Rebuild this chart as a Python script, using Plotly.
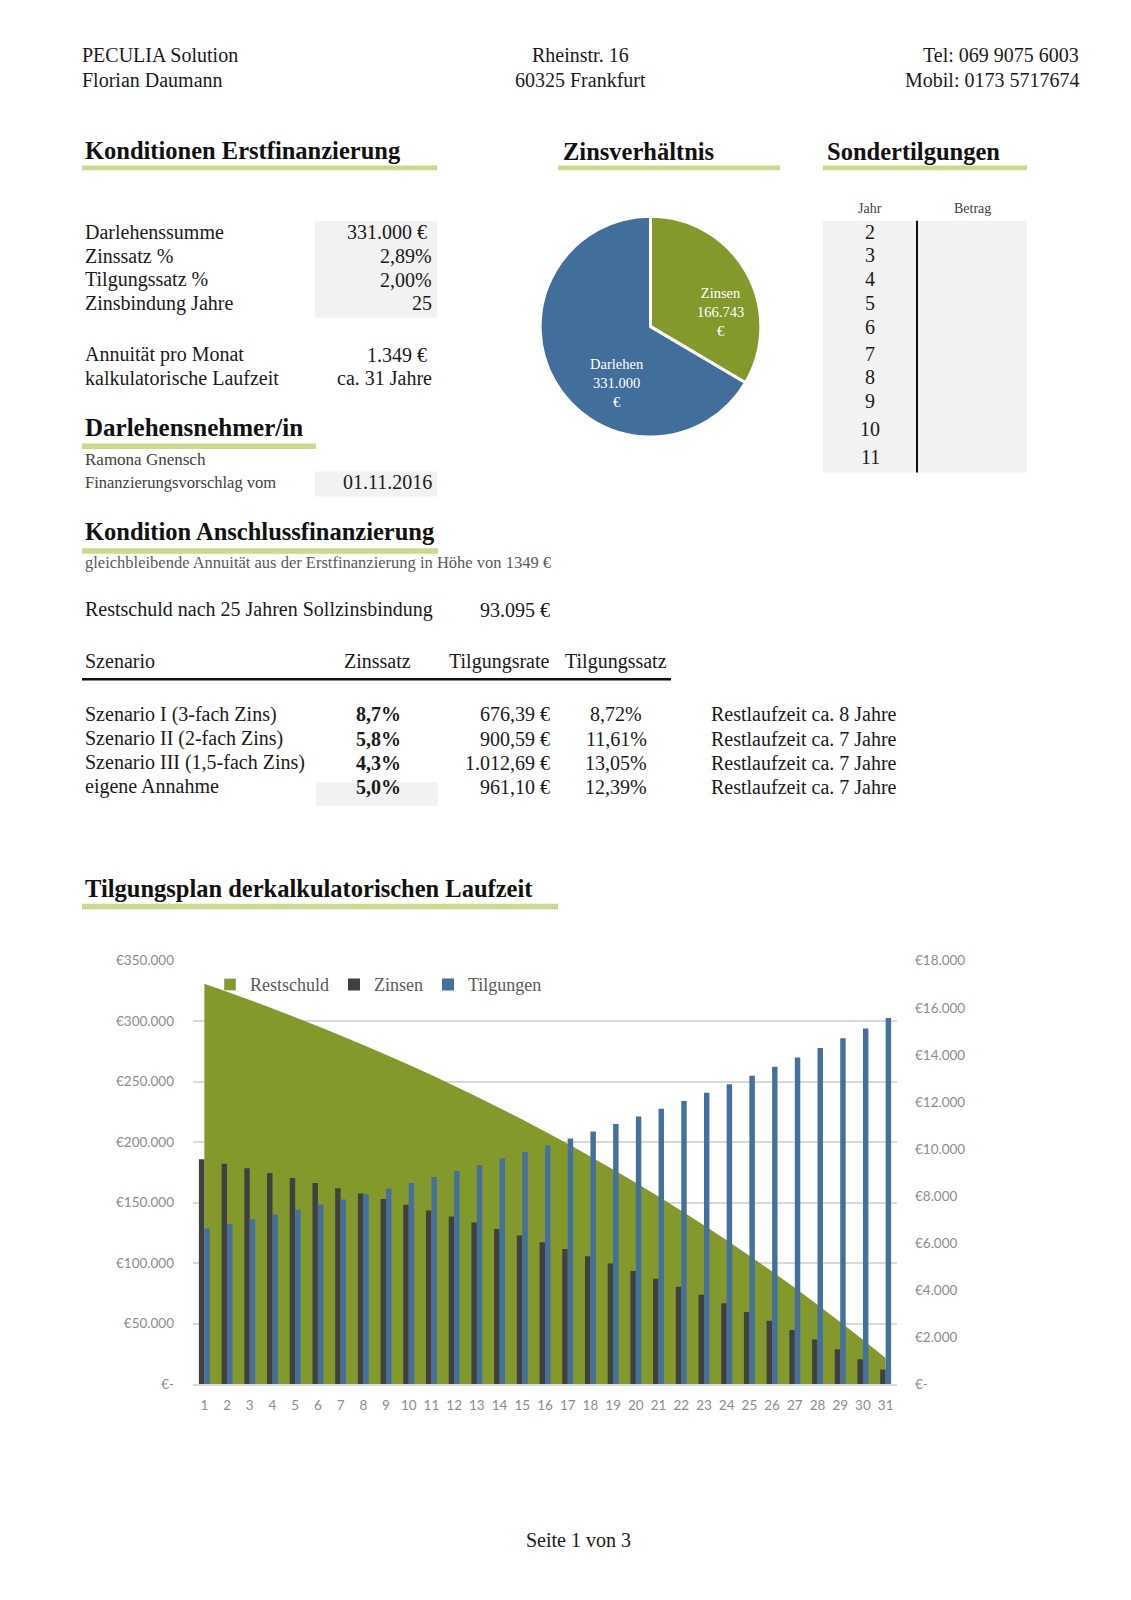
import plotly.graph_objects as go

W, H = 1131, 1600
SERIF = "Liberation Serif"
SANS = "Lato"

# ---------------- data ----------------
header_left = ["PECULIA Solution", "Florian Daumann"]
header_mid = ["Rheinstr. 16", "60325 Frankfurt"]
header_right = ["Tel: 069 9075 6003", "Mobil: 0173 5717674"]

kond_labels = ["Darlehenssumme", "Zinssatz %", "Tilgungssatz %", "Zinsbindung Jahre"]
kond_values = ["331.000 €", "2,89%", "2,00%", "25"]
ann_labels = ["Annuität pro Monat", "kalkulatorische Laufzeit"]
ann_values = ["1.349 €", "ca. 31 Jahre"]

nehmer_name = "Ramona Gnensch"
vorschlag_label = "Finanzierungsvorschlag vom"
vorschlag_datum = "01.11.2016"

pie_labels = ["Zinsen", "Darlehen"]
pie_values = [166743, 331000]

sonder_jahre = [2, 3, 4, 5, 6, 7, 8, 9, 10, 11]

anschluss_note = "gleichbleibende Annuität aus der Erstfinanzierung in Höhe von 1349 €"
restschuld_label = "Restschuld nach 25 Jahren Sollzinsbindung"
restschuld_wert = "93.095 €"

szen_header = ["Szenario", "Zinssatz", "Tilgungsrate", "Tilgungssatz"]
szen_names = ["Szenario I (3-fach Zins)", "Szenario II (2-fach Zins)",
              "Szenario III (1,5-fach Zins)", "eigene Annahme"]
szen_zins = ["8,7%", "5,8%", "4,3%", "5,0%"]
szen_rate = ["676,39 €", "900,59 €", "1.012,69 €", "961,10 €"]
szen_satz = ["8,72%", "11,61%", "13,05%", "12,39%"]
szen_rest = ["Restlaufzeit ca. 8 Jahre", "Restlaufzeit ca. 7 Jahre",
             "Restlaufzeit ca. 7 Jahre", "Restlaufzeit ca. 7 Jahre"]

years = list(range(1, 32))
restschuld = [331000, 324380, 317569, 310561, 303350, 295931, 288297, 280443, 272362, 264047,
              255493, 246690, 237634, 228316, 218728, 208863, 198713, 188270, 177525, 166470,
              155095, 143391, 131350, 118960, 106212, 93095, 79600, 65714, 51428, 36728, 21603]
zinsen = [9566, 9375, 9178, 8975, 8767, 8552, 8332, 8105, 7871, 7631,
          7384, 7129, 6868, 6598, 6321, 6036, 5743, 5441, 5131, 4811,
          4482, 4144, 3796, 3438, 3070, 2691, 2300, 1899, 1486, 1061, 624]
tilgungen = [6620, 6811, 7008, 7211, 7419, 7634, 7854, 8081, 8315, 8555,
             8802, 9057, 9318, 9588, 9865, 10150, 10443, 10745, 11055, 11375,
             11704, 12042, 12390, 12748, 13116, 13495, 13886, 14287, 14700, 15125, 15562]

left_ticks = [0, 50000, 100000, 150000, 200000, 250000, 300000, 350000]
right_ticks = [0, 2000, 4000, 6000, 8000, 10000, 12000, 14000, 16000, 18000]

# colours
GREEN = "#84992B"
BLUE = "#44709D"
PIEBLUE = "#426E9B"
DARK = "#404040"
LINEGREEN = "#C8DA8F"
BOXGREY = "#F2F2F2"
TXT = "#1A1A1A"
TICK = "#8C8C8C"


def eur(v):
    return "€-" if v == 0 else "€" + f"{v:,}".replace(",", ".")


# page-pixel -> paper helpers (vertical correction for the page offset seen in rendering)
V_OFF, V_SC = 7.9, 0.9914


def X(px):
    return px / W


def Y(py):
    return 1 - ((py - V_OFF) / V_SC) / H


annotations = []
shapes = []


def text(x, base, s, size=20, anchor="left", bold=False, color=TXT, family=SERIF):
    annotations.append(dict(
        x=X(x), y=Y(base - 0.32 * size), xref="paper", yref="paper",
        text=f"<b>{s}</b>" if bold else s, showarrow=False,
        xanchor=anchor, yanchor="middle", borderpad=0, borderwidth=0,
        font=dict(family=family, size=size, color=color)))


def rect(x0, y0, x1, y1, color):
    shapes.append(dict(type="rect", xref="paper", yref="paper",
                       x0=X(x0), x1=X(x1), y0=Y(y1), y1=Y(y0),
                       fillcolor=color, line=dict(width=0), layer="below"))


def line(x0, y0, x1, y1, color, width):
    shapes.append(dict(type="line", xref="paper", yref="paper",
                       x0=X(x0), x1=X(x1), y0=Y(y0), y1=Y(y1),
                       line=dict(color=color, width=width)))


def heading(x, base, s, ux0, ux1, uy0, uy1, size=24.5):
    text(x, base, s, size=size, bold=True, color="#111111")
    rect(ux0, uy0, ux1, uy1, LINEGREEN)


# ---------------- header ----------------
for i, b in enumerate([61, 86.5]):
    text(82, b, header_left[i], size=20)
    text(580, b, header_mid[i], size=20, anchor="center")
    text(1079, b, header_right[i], size=20, anchor="right")

# ---------------- Konditionen Erstfinanzierung ----------------
heading(85, 158, "Konditionen Erstfinanzierung", 82, 437, 165.5, 170.5)
rect(315, 221, 437, 318, BOXGREY)
for lab, val, b in zip(kond_labels, kond_values, [239, 262.7, 286.3, 310]):
    text(85, b, lab)
    text(427 if "€" in val else 432, b, val, anchor="right")
for lab, val, b in zip(ann_labels, ann_values, [361.7, 385]):
    text(85, b, lab)
    text(427 if "€" in val else 432, b, val, anchor="right")

# ---------------- Darlehensnehmer ----------------
heading(85, 436, "Darlehensnehmer/in", 82, 316, 444, 449.5, size=25)
text(85, 465, nehmer_name, size=17, color="#404040")
rect(315, 472, 437, 497, BOXGREY)
text(85, 488.5, vorschlag_label, size=16.5, color="#404040")
text(432, 488.5, vorschlag_datum, anchor="right")

# ---------------- Zinsverhältnis ----------------
heading(563, 159, "Zinsverhältnis", 558, 780, 165.5, 170.5)
pie_label_pos = [(720.5, 312), (617, 383)]
for lab, val, (lx, ly) in zip(pie_labels, pie_values, pie_label_pos):
    annotations.append(dict(
        x=X(lx), y=Y(ly), xref="paper", yref="paper", showarrow=False,
        text=f"{lab}<br>{val:,}".replace(",", ".") + "<br>€",
        xanchor="center", yanchor="middle", align="center",
        font=dict(family=SERIF, size=14.5, color="white")))

# ---------------- Sondertilgungen ----------------
heading(827, 159, "Sondertilgungen", 823, 1027, 165.5, 170.5)
text(870, 213, "Jahr", size=14, anchor="center", color="#404040")
text(972, 213, "Betrag", size=14, anchor="center", color="#404040")
rect(823, 221, 1027, 473, BOXGREY)
line(917, 221, 917, 473, "#111111", 2)
for j, b in zip(sonder_jahre, [238.3, 261.7, 286, 310, 334, 360.7, 384, 407.7, 436, 464.3]):
    text(870, b, str(j), anchor="center")

# ---------------- Kondition Anschlussfinanzierung ----------------
heading(85, 540, "Kondition Anschlussfinanzierung", 82, 438, 549, 554.5)
text(85, 568.5, anschluss_note, size=16.5, color="#595959")
text(85, 616.7, restschuld_label)
text(550, 616.7, restschuld_wert, anchor="right")

text(85, 668.3, szen_header[0])
text(377, 668.3, szen_header[1], anchor="center")
text(499, 668.3, szen_header[2], anchor="center")
text(616, 668.3, szen_header[3], anchor="center")
line(82, 680, 671, 680, "#111111", 2.5)
rect(316, 783, 438, 807, BOXGREY)
for i, b in enumerate([721.7, 746, 770, 794]):
    text(85, b, szen_names[i])
    text(378, b, szen_zins[i], anchor="center", bold=True)
    text(550, b, szen_rate[i], anchor="right")
    text(616, b, szen_satz[i], anchor="center")
    text(711, b, szen_rest[i])

# ---------------- Tilgungsplan ----------------
heading(85, 897, "Tilgungsplan derkalkulatorischen Laufzeit", 82, 558, 905, 910.5)

# footer
text(578, 1548, "Seite 1 von 3", size=20, anchor="center")

fig = go.Figure()

# pie
fig.add_trace(go.Pie(
    labels=pie_labels, values=pie_values, sort=False, direction="clockwise", rotation=0,
    marker=dict(colors=[GREEN, PIEBLUE], line=dict(color="white", width=3)),
    textinfo="none", hoverinfo="label+value", showlegend=False,
    domain=dict(x=[X(540), X(761)], y=[Y(437.5), Y(216.5)])))

# legend proxy so that Restschuld shows a square key like the other series
fig.add_trace(go.Bar(
    x=[None], y=[None], name="Restschuld", marker=dict(color=GREEN),
    legendgroup="rest", xaxis="x", yaxis="y", hoverinfo="skip"))
# chart
fig.add_trace(go.Scatter(
    x=years, y=restschuld, name="Restschuld", mode="none", fill="tozeroy",
    fillcolor=GREEN, legendgroup="rest", showlegend=False, xaxis="x", yaxis="y"))
fig.add_trace(go.Bar(
    x=years, y=zinsen, name="Zinsen", marker=dict(color=DARK, line=dict(width=0)),
    xaxis="x", yaxis="y2"))
fig.add_trace(go.Bar(
    x=years, y=tilgungen, name="Tilgungen", marker=dict(color=BLUE, line=dict(width=0)),
    xaxis="x", yaxis="y2"))

tickfont = dict(family=SANS, size=13.5, color=TICK)

fig.update_layout(
    width=W, height=H, autosize=False,
    margin=dict(l=0, r=0, t=0, b=0, pad=0),
    paper_bgcolor="white", plot_bgcolor="rgba(0,0,0,0)",
    separators=",.",
    barmode="group", bargap=0.52, bargroupgap=0,
    annotations=annotations, shapes=shapes,
    xaxis=dict(domain=[X(193), X(897)], range=[0.5, 31.5], tickmode="array",
               tickvals=years, ticktext=[str(y) for y in years], tickfont=tickfont,
               showgrid=False, zeroline=False, showline=True, linecolor="#D9D9D9",
               linewidth=1.5, ticks="", ticklabelstandoff=8, anchor="y", fixedrange=True),
    yaxis=dict(domain=[Y(1386), Y(962)], range=[0, 350000], tickmode="array",
               tickvals=left_ticks, ticktext=[eur(v) for v in left_ticks], tickfont=tickfont,
               showgrid=True, gridcolor="#D9D9D9", gridwidth=1.5, zeroline=False,
               showline=False, ticks="", ticklabelstandoff=18, anchor="x"),
    yaxis2=dict(range=[0, 18000], overlaying="y", side="right", anchor="x",
                tickmode="array", tickvals=right_ticks, ticktext=[eur(v) for v in right_ticks],
                tickfont=tickfont, showgrid=False, zeroline=False, showline=False,
                ticks="", ticklabelstandoff=17),
    legend=dict(orientation="h", x=X(210), y=Y(986), xanchor="left", yanchor="middle",
                bgcolor="rgba(0,0,0,0)", font=dict(family=SERIF, size=18, color="#595959"),
                itemwidth=30, traceorder="normal"),
)

fig.write_html(
    "out.html",
    config={"displayModeBar": False},
    post_script=("document.documentElement.style.margin='0';"
                 "document.body.style.margin='0';"
                 "document.body.style.padding='0';"),
)
